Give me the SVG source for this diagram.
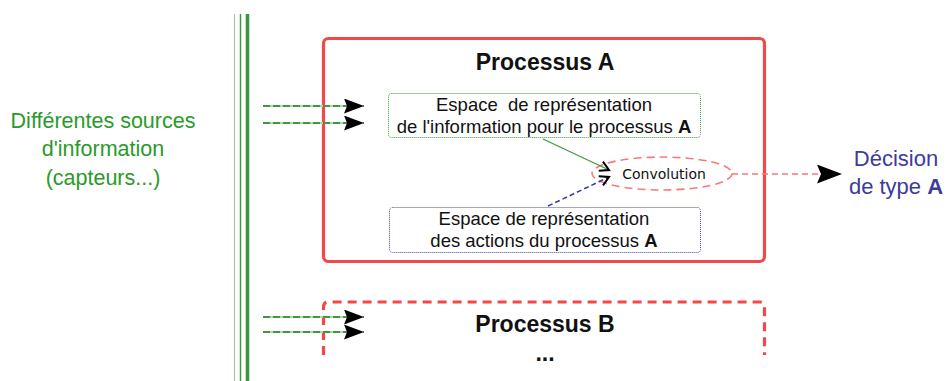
<svg xmlns="http://www.w3.org/2000/svg" width="946" height="381" viewBox="0 0 946 381">
  <style>
    .t { font-family: "Liberation Sans", Arial, sans-serif; fill: #111; text-anchor: middle; }
    .title { font-size: 23px; font-weight: bold; }
    .box-text { font-size: 18.5px; }
    .src { font-size: 21.5px; fill: #2a9a2a; }
    .dec { font-size: 22px; fill: #3c3c9e; }
    .conv { font-family: "DejaVu Sans", sans-serif; font-size: 14px; fill: #111; text-anchor: middle; }
    .feed-base { stroke: #a8d8a8; stroke-width: 2; fill: none; }
    .feed-dash { stroke: #3f9a3f; stroke-width: 2; stroke-dasharray: 7 3; fill: none; }
    .proc { fill: none; stroke: #f44848; stroke-width: 3.2; }
  </style>
  <defs>
    <marker id="head" markerUnits="userSpaceOnUse" markerWidth="22" markerHeight="16" refX="20" refY="7.5" orient="auto">
      <path d="M0,0 L20,7.5 L0,15 L3,7.5 z" fill="#000"/>
    </marker>
    <marker id="bighead" markerUnits="userSpaceOnUse" markerWidth="27" markerHeight="20" refX="25" refY="9.5" orient="auto">
      <path d="M0,0 L25,9.5 L0,19 L4,9.5 z" fill="#000"/>
    </marker>
    <marker id="small" markerUnits="userSpaceOnUse" markerWidth="12" markerHeight="12" refX="10" refY="6" orient="auto">
      <path d="M1,1 L10,6 L1,11" fill="none" stroke="#000" stroke-width="2"/>
    </marker>
  </defs>

  <!-- sensor bus -->
  <g id="bus">
    <line x1="234.5" y1="14" x2="234.5" y2="381" stroke="#8fcf8f" stroke-width="1"/>
    <line x1="240.5" y1="14" x2="240.5" y2="381" stroke="#3f9a3f" stroke-width="1.5"/>
    <line x1="247.5" y1="14" x2="247.5" y2="381" stroke="#3a963a" stroke-width="3.5"/>
  </g>

  <g id="sources">
    <text class="t src" x="103" y="128">Différentes sources</text>
    <text class="t src" x="103" y="156">d'information</text>
    <text class="t src" x="103" y="185">(capteurs...)</text>
  </g>

  <g id="processA">
    <rect class="proc" x="323.5" y="38.5" width="441" height="223" rx="5"/>
    <text class="t title" x="545" y="70">Processus A</text>
  </g>

  <g id="infoSpace">
    <rect x="388.5" y="93.5" width="312" height="44" rx="3" fill="none" stroke="#3a9a3a" stroke-width="1" stroke-dasharray="1 1"/>
    <text class="t box-text" x="544" y="111" xml:space="preserve">Espace  de représentation</text>
    <text class="t box-text" x="544" y="133">de l'information pour le processus <tspan font-weight="bold">A</tspan></text>
  </g>

  <g id="actionSpace">
    <rect x="389.5" y="207.5" width="311" height="45" rx="3" fill="none" stroke="#4646c0" stroke-width="1" stroke-dasharray="1 1"/>
    <text class="t box-text" x="544" y="225">Espace de représentation</text>
    <text class="t box-text" x="544" y="247">des actions du processus <tspan font-weight="bold">A</tspan></text>
  </g>

  <g id="convolution">
    <ellipse cx="662" cy="173.5" rx="70" ry="16.5" fill="none" stroke="#f77a7a" stroke-width="1.6" stroke-dasharray="8 5"/>
    <text class="conv" x="664" y="179">Convolution</text>
  </g>

  <g id="decision">
    <text class="t dec" x="896" y="166">Décision</text>
    <text class="t dec" x="896" y="194">de type <tspan font-weight="bold">A</tspan></text>
  </g>

  <g id="processB">
    <path class="proc" d="M323.5,355 V307 Q323.5,302 328.5,302 H759.5 Q764.5,302 764.5,307 V355" stroke-dasharray="9 6"/>
    <text class="t title" x="545" y="332">Processus B</text>
    <text class="t title" x="545" y="361">...</text>
  </g>

  <g id="connectors">
    <line class="feed-base" x1="263" y1="106" x2="350" y2="106"/>
    <line class="feed-dash" x1="263" y1="106" x2="364" y2="106" marker-end="url(#head)"/>
    <line class="feed-base" x1="263" y1="123" x2="350" y2="123"/>
    <line class="feed-dash" x1="263" y1="123" x2="364" y2="123" marker-end="url(#head)"/>
    <line class="feed-base" x1="263" y1="317" x2="350" y2="317"/>
    <line class="feed-dash" x1="263" y1="317" x2="364" y2="317" marker-end="url(#head)"/>
    <line class="feed-base" x1="263" y1="332" x2="350" y2="332"/>
    <line class="feed-dash" x1="263" y1="332" x2="364" y2="332" marker-end="url(#head)"/>
    <line x1="543" y1="139" x2="609" y2="170" stroke="#3a9a3a" stroke-width="1.2" marker-end="url(#small)"/>
    <line x1="548" y1="206" x2="609" y2="177" stroke="#3c3cb0" stroke-width="1.6" stroke-dasharray="5 3" marker-end="url(#small)"/>
    <line x1="732" y1="174" x2="842" y2="174" stroke="#f77a7a" stroke-width="1.6" stroke-dasharray="6 4" marker-end="url(#bighead)"/>
  </g>
</svg>
